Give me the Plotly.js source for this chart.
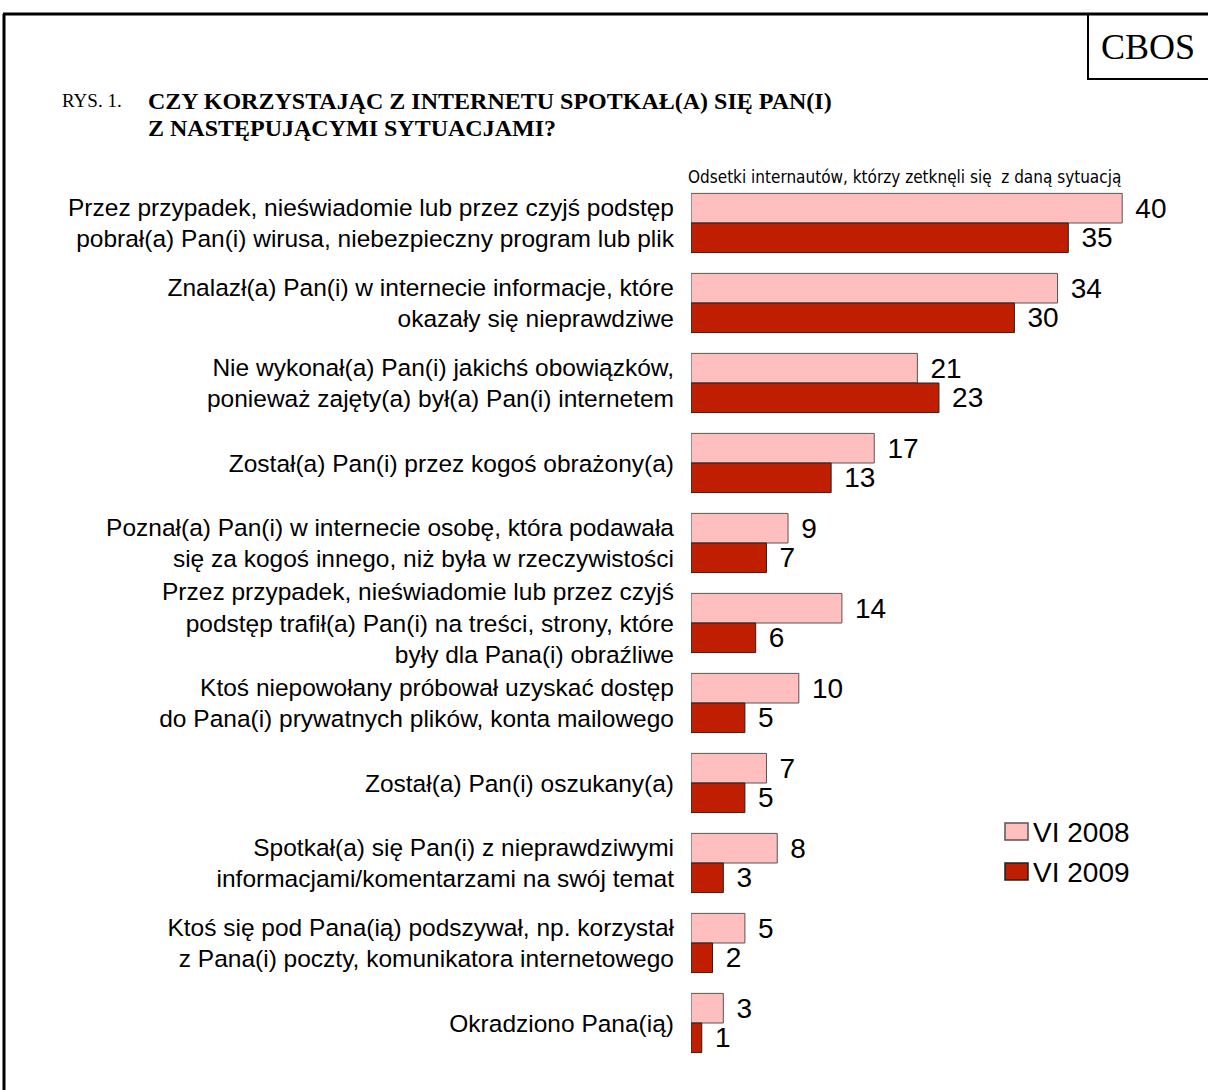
<!DOCTYPE html>
<html>
<head>
<meta charset="utf-8">
<script src="https://cdn.plot.ly/plotly-3.0.1.min.js"></script>
<style>html,body{margin:0;padding:0;background:#fff;}#chart{width:1208px;height:1090px;}</style>
</head>
<body>
<div id="chart"></div>
<script>
var categories = [
  "Przez przypadek, nieświadomie lub przez czyjś podstęp<br>pobrał(a) Pan(i) wirusa, niebezpieczny program lub plik",
  "Znalazł(a) Pan(i) w internecie informacje, które<br>okazały się nieprawdziwe",
  "Nie wykonał(a) Pan(i) jakichś obowiązków,<br>ponieważ zajęty(a) był(a) Pan(i) internetem",
  "Został(a) Pan(i) przez kogoś obrażony(a)",
  "Poznał(a) Pan(i) w internecie osobę, która podawała<br>się za kogoś innego, niż była w rzeczywistości",
  "Przez przypadek, nieświadomie lub przez czyjś<br>podstęp trafił(a) Pan(i) na treści, strony, które<br>były dla Pana(i) obraźliwe",
  "Ktoś niepowołany próbował uzyskać dostęp<br>do Pana(i) prywatnych plików, konta mailowego",
  "Został(a) Pan(i) oszukany(a)",
  "Spotkał(a) się Pan(i) z nieprawdziwymi<br>informacjami/komentarzami na swój temat",
  "Ktoś się pod Pana(ią) podszywał, np. korzystał<br>z Pana(i) poczty, komunikatora internetowego",
  "Okradziono Pana(ią)"
];
var seriesNames = ["VI 2008", "VI 2009"];
var values2008 = [40, 34, 21, 17, 9, 14, 10, 7, 8, 5, 3];
var values2009 = [35, 30, 23, 13, 7, 6, 5, 5, 3, 2, 1];
var seriesColors = ["#FFBFBF", "#BF1E00"];
var seriesLines = ["#555555", "#222222"];

var W = 1208, H = 1090;
function px(x){ return x / W; }
function py(y){ return 1 - y / H; }

var sans = "Liberation Sans, Arial, sans-serif";
var serif = "Liberation Serif, Times New Roman, serif";

function barTrace(i, vals){
  return {
    type: "bar", orientation: "h", name: seriesNames[i],
    y: categories, x: vals,
    marker: {color: seriesColors[i], line: {color: seriesLines[i], width: 1}},
    texttemplate: "\u00a0\u200a%{x}",
    textposition: "outside", cliponaxis: false, constraintext: "none",
    outsidetextfont: {family: sans, size: 28, color: "#000"},
    hoverinfo: "x+name", showlegend: false
  };
}
var traces = [barTrace(0, values2008), barTrace(1, values2009)];

var shapes = [
  {type: "line", xref: "paper", yref: "paper", x0: px(3), x1: px(1210), y0: py(14), y1: py(14), line: {color: "#000", width: 3}},
  {type: "line", xref: "paper", yref: "paper", x0: px(4), x1: px(4), y0: py(14), y1: py(1092), line: {color: "#000", width: 3}},
  {type: "rect", xref: "paper", yref: "paper", x0: px(1088), x1: px(1212), y0: py(14), y1: py(79), line: {color: "#000", width: 2}, fillcolor: "rgba(0,0,0,0)"}
];
var annotations = [
  {xref: "paper", yref: "paper", x: px(1148), y: py(47), text: "CBOS", showarrow: false, xanchor: "center", yanchor: "middle", font: {family: serif, size: 36, color: "#000"}},
  {xref: "paper", yref: "paper", x: px(60), y: py(101), text: "RYS. 1.", showarrow: false, xanchor: "left", yanchor: "middle", font: {family: serif, size: 19, color: "#000"}},
  {xref: "paper", yref: "paper", x: px(146), y: py(101), text: "<b>CZY KORZYSTAJĄC Z INTERNETU SPOTKAŁ(A) SIĘ PAN(I)</b>", showarrow: false, xanchor: "left", yanchor: "middle", font: {family: serif, size: 24, color: "#000"}},
  {xref: "paper", yref: "paper", x: px(146), y: py(128), text: "<b>Z NASTĘPUJĄCYMI SYTUACJAMI?</b>", showarrow: false, xanchor: "left", yanchor: "middle", font: {family: serif, size: 24, color: "#000"}},
  {xref: "paper", yref: "paper", x: px(686), y: py(177), text: "Odsetki internautów, którzy zetknęli się  z daną sytuacją", showarrow: false, xanchor: "left", yanchor: "middle", font: {family: "Liberation Sans Narrow, Arial Narrow, DejaVu Sans Condensed, sans-serif", size: 17, color: "#000"}}
];
// legend drawn as shapes + text, from series names/colours
seriesNames.forEach(function(n, i){
  var yc = 832 + 40 * i;
  shapes.push({type: "rect", xref: "paper", yref: "paper", x0: px(1005), x1: px(1028), y0: py(yc - 9), y1: py(yc + 8),
    fillcolor: seriesColors[i], line: {color: seriesLines[i], width: 1.5}});
  annotations.push({xref: "paper", yref: "paper", x: px(1031), y: py(yc), text: n, showarrow: false,
    xanchor: "left", yanchor: "middle", font: {family: sans, size: 28, color: "#000"}});
});

var layout = {
  width: W, height: H,
  margin: {l: 0, r: 0, t: 0, b: 0},
  paper_bgcolor: "#fff", plot_bgcolor: "#fff",
  barmode: "group", bargap: 0.26, bargroupgap: 0,
  showlegend: false,
  xaxis: {
    domain: [px(691), px(1201)], range: [0, 510 / 10.78],
    showgrid: false, zeroline: false, showline: false,
    showticklabels: false, ticks: "", fixedrange: true
  },
  yaxis: {
    domain: [py(1063), py(183)], autorange: "reversed",
    type: "category",
    showgrid: false, zeroline: false, showline: false, ticks: "",
    tickfont: {family: sans, size: 24.5, color: "#000"},
    ticklabelstandoff: 16, automargin: false, fixedrange: true
  },
  shapes: shapes,
  annotations: annotations
};

Plotly.newPlot("chart", traces, layout, {displayModeBar: false, staticPlot: true});
</script>
</body>
</html>
